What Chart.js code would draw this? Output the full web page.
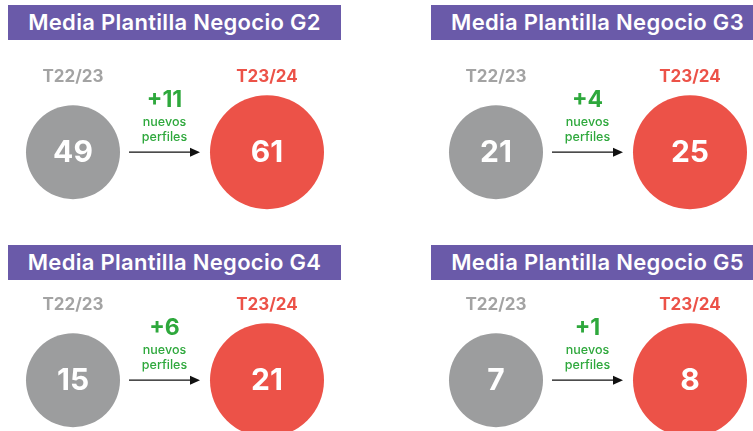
<!DOCTYPE html>
<html>
<head>
<meta charset="utf-8">
<script src="https://cdn.jsdelivr.net/npm/chart.js@4.4.0/dist/chart.umd.min.js"></script>
<style>
  body { margin: 0; width: 753px; height: 431px; overflow: hidden; background: #fff; position: relative; font-family: Inter, sans-serif; }
  .bar { position: absolute; width: 333px; height: 35px; background: #6a5aa9; color: #fff;
         font: 600 22px Inter, sans-serif; letter-spacing: 0.3px; line-height: 35px; text-align: center; white-space: nowrap; }
  canvas { position: absolute; }
</style>
</head>
<body>
<script>
// datos
const groups = ['G2', 'G3', 'G4', 'G5']
const periods = ['T22/23', 'T23/24']
const plantillaPrev = [49, 21, 15, 7]
const plantillaCurr = [61, 25, 21, 8]
const nuevos = [11, 4, 6, 1]

const grey = '#9c9d9e'
const red = '#ec5248'
const green = '#2ea83c'

// panel offsets (left, top)
const panelX = [0, 423, 0, 423]
const panelY = [0, 0, 228, 228]

const perfilesPlugin = {
  id: 'perfiles',
  afterDatasetsDraw(chart, args, opts) {
    const ctx = chart.ctx
    const pts = chart.getDatasetMeta(0).data
    const raw = chart.data.datasets[0].data
    const radius = chart.data.datasets[0].pointRadius
    ctx.save()
    ctx.textAlign = 'center'
    ctx.textBaseline = 'middle'

    // numbers inside the circles
    ctx.fillStyle = '#fff'
    ctx.font = '700 30px Inter, sans-serif'
    pts.forEach((p, i) => ctx.fillText(raw[i].v, p.x, p.y + 1))

    // arrow
    const y = pts[0].y
    const x0 = pts[0].x + radius[0] + 9
    const x1 = pts[1].x - radius[1] - 10
    ctx.strokeStyle = '#111'
    ctx.fillStyle = '#111'
    ctx.lineWidth = 1.3
    ctx.beginPath()
    ctx.moveTo(x0, y)
    ctx.lineTo(x1 - 8, y)
    ctx.stroke()
    ctx.beginPath()
    ctx.moveTo(x1, y)
    ctx.lineTo(x1 - 10, y - 4.5)
    ctx.lineTo(x1 - 10, y + 4.5)
    ctx.closePath()
    ctx.fill()

    // +N nuevos perfiles
    const mx = (x0 + x1) / 2
    ctx.fillStyle = green
    ctx.font = '700 23px Inter, sans-serif'
    ctx.fillText('+' + opts.added, mx, y - 52)
    ctx.font = '500 12.5px Inter, sans-serif'
    ctx.fillText('nuevos', mx, y - 30)
    ctx.fillText('perfiles', mx, y - 15)
    ctx.restore()
  }
}

groups.forEach((g, i) => {
  let bar = document.createElement('div')
  bar.className = 'bar'
  bar.style.left = (panelX[i] + 8) + 'px'
  bar.style.top = (panelY[i] + (i < 2 ? 5 : 17)) + 'px'
  bar.textContent = 'Media Plantilla Negocio ' + g
  document.body.appendChild(bar)

  let canvas = document.createElement('canvas')
  canvas.width = 376
  canvas.height = 158
  canvas.style.left = panelX[i] + 'px'
  canvas.style.top = (panelY[i] + 55) + 'px'
  document.body.appendChild(canvas)

  new Chart(canvas, {
    type: 'scatter',
    data: {
      labels: periods,
      datasets: [{
        data: [
          { x: periods[0], y: g, v: plantillaPrev[i] },
          { x: periods[1], y: g, v: plantillaCurr[i] }
        ],
        pointRadius: [47, 57],
        pointHoverRadius: [47, 57],
        pointBackgroundColor: [grey, red],
        pointBorderWidth: 0,
        clip: false
      }]
    },
    options: {
      responsive: false,
      animation: false,
      events: [],
      layout: { autoPadding: false, padding: { left: 73, right: 109, top: 8, bottom: 0 } },
      plugins: {
        legend: { display: false },
        tooltip: { enabled: false },
        perfiles: { added: nuevos[i] }
      },
      scales: {
        x: {
          type: 'category',
          labels: periods,
          position: 'top',
          offset: false,
          grid: { display: false, drawTicks: false },
          border: { display: false },
          ticks: {
            color: ['#a3a3a3', red],
            font: { family: 'Inter', size: 17, weight: '700' },
            padding: 4,
            maxRotation: 0,
            autoSkip: false
          }
        },
        y: { type: 'category', labels: [g], offset: true, display: false }
      }
    },
    plugins: [perfilesPlugin]
  })
})
</script>
</body>
</html>
